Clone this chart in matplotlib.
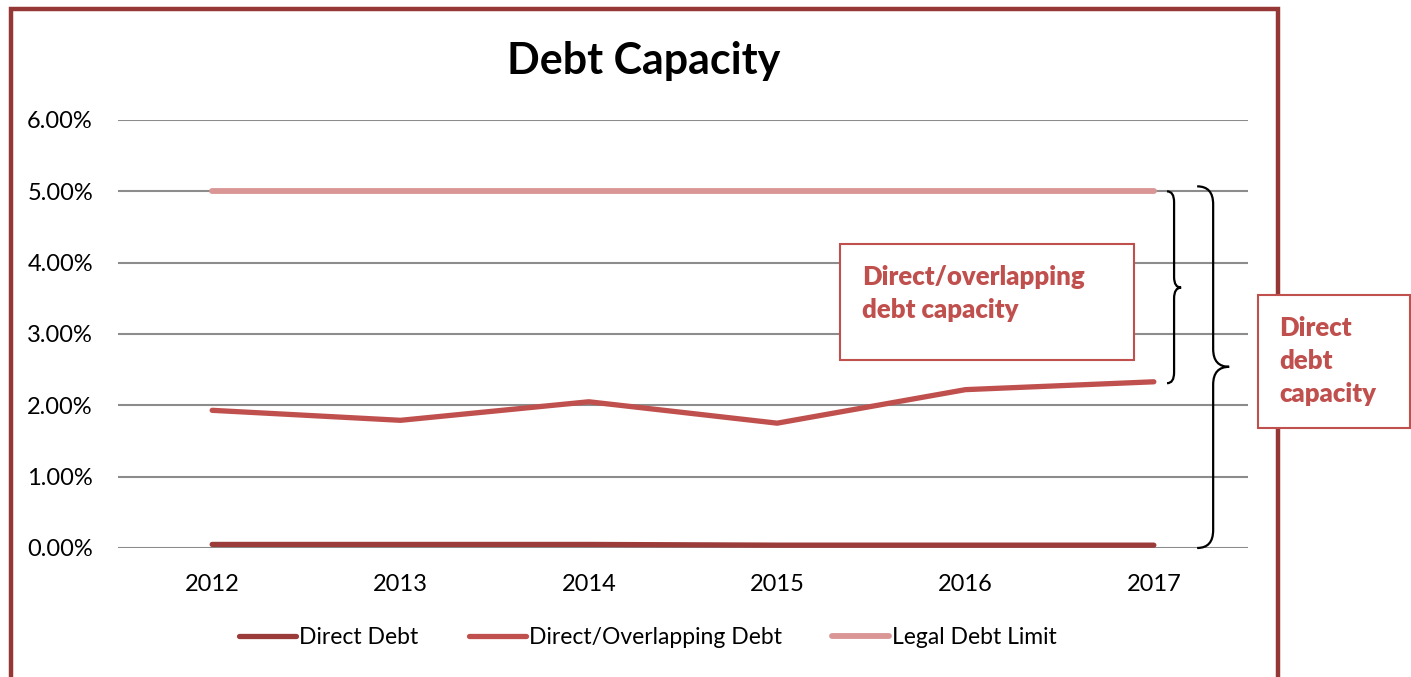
import matplotlib
matplotlib.use("Agg")
import matplotlib.pyplot as plt
from matplotlib.path import Path
from matplotlib.patches import PathPatch, Rectangle
from matplotlib.lines import Line2D

plt.rcParams['font.family'] = ['Lato', 'DejaVu Sans']

years = ["2012", "2013", "2014", "2015", "2016", "2017"]
direct_debt = [0.0005, 0.0005, 0.0005, 0.0004, 0.0004, 0.0004]
overlapping_debt = [0.0193, 0.0179, 0.0205, 0.0175, 0.0222, 0.0233]
legal_limit = [0.05, 0.05, 0.05, 0.05, 0.05, 0.05]
yticks = [0.0, 0.01, 0.02, 0.03, 0.04, 0.05, 0.06]

c_direct = "#9B3B3A"
c_over = "#C0504D"
c_legal = "#D99694"
c_frame = "#953735"

fig = plt.figure(figsize=(14.11, 6.77), dpi=100)
W, H = 1411, 677
ax = fig.add_axes([118 / W, 1 - 548 / H, (1248 - 118) / W, (548 - 120) / H])

x = list(range(len(years)))
l1, = ax.plot(x, direct_debt, color=c_direct, lw=3.8, solid_capstyle='round', zorder=3)
l2, = ax.plot(x, overlapping_debt, color=c_over, lw=3.8, solid_capstyle='round', zorder=3)
l3, = ax.plot(x, legal_limit, color=c_legal, lw=4.2, solid_capstyle='round', zorder=3)

ax.set_xlim(-0.5, 5.5)
ax.set_ylim(0, 0.06)
ax.set_yticks(yticks)
ax.set_yticklabels([f"{v*100:.2f}%" for v in yticks])
ax.set_xticks(x)
ax.set_xticklabels(years)
for s in ax.spines.values():
    s.set_visible(False)
ax.tick_params(axis='both', length=0, labelsize=17, colors='black')
ax.tick_params(axis='y', pad=18)
ax.tick_params(axis='x', pad=19)
ax.grid(axis='y', color='#8C8C8C', lw=1.5)
ax.set_axisbelow(True)

fig.text(644 / W, 1 - 61 / H, "Debt Capacity", ha='center', va='center',
         fontsize=31, fontweight='bold')


def brace(ax, x0, w, y0, y1, ym, r):
    h = w * 0.5
    verts = [(x0, y1), (x0 + h, y1), (x0 + h, y1 - r),
             (x0 + h, ym + r),
             (x0 + h, ym), (x0 + w, ym),
             (x0 + h, ym), (x0 + h, ym - r),
             (x0 + h, y0 + r),
             (x0 + h, y0), (x0, y0)]
    codes = [Path.MOVETO, Path.CURVE3, Path.CURVE3, Path.LINETO,
             Path.CURVE3, Path.CURVE3, Path.CURVE3, Path.CURVE3,
             Path.LINETO, Path.CURVE3, Path.CURVE3]
    ax.add_patch(PathPatch(Path(verts, codes), fill=False, lw=1.6,
                           color='black', clip_on=False, zorder=4))


brace(ax, 5.07, 0.075, 0.0231, 0.0500, 0.0365, 0.0015)
brace(ax, 5.23, 0.17, 0.0, 0.0507, 0.0254, 0.0025)

# text boxes
fig.patches.append(Rectangle((840 / W, 1 - 360 / H), (1134 - 840) / W, (360 - 244) / H,
                             transform=fig.transFigure, fill=True, facecolor='white',
                             edgecolor=c_over, lw=1.5, zorder=5))
fig.text(862 / W, 1 - 294 / H, "Direct/overlapping\ndebt capacity", ha='left', va='center',
         fontsize=18.5, fontweight='heavy', color=c_over, linespacing=1.45, zorder=6)
fig.patches.append(Rectangle((1258 / W, 1 - 428 / H), (1410 - 1258) / W, (428 - 295) / H,
                             transform=fig.transFigure, fill=True, facecolor='white',
                             edgecolor=c_over, lw=1.5, zorder=5))
fig.text(1279 / W, 1 - 361 / H, "Direct\ndebt\ncapacity", ha='left', va='center',
         fontsize=18.5, fontweight='heavy', color=c_over, linespacing=1.45, zorder=6)

# frame
fig.patches.append(Rectangle((11 / W, -0.05), (1278 - 11) / W, 1.05 - 9 / H,
                             transform=fig.transFigure, fill=False,
                             edgecolor=c_frame, lw=3.2, zorder=1))

fig.legend([l1, l2, l3], ["Direct Debt", "Direct/Overlapping Debt", "Legal Debt Limit"],
           loc='center', bbox_to_anchor=(648 / W, 1 - 638 / H), ncol=3, frameon=False,
           fontsize=16.5, handlelength=2.5, handletextpad=0.12, columnspacing=2.2)

fig.savefig("out.png", dpi=100)
